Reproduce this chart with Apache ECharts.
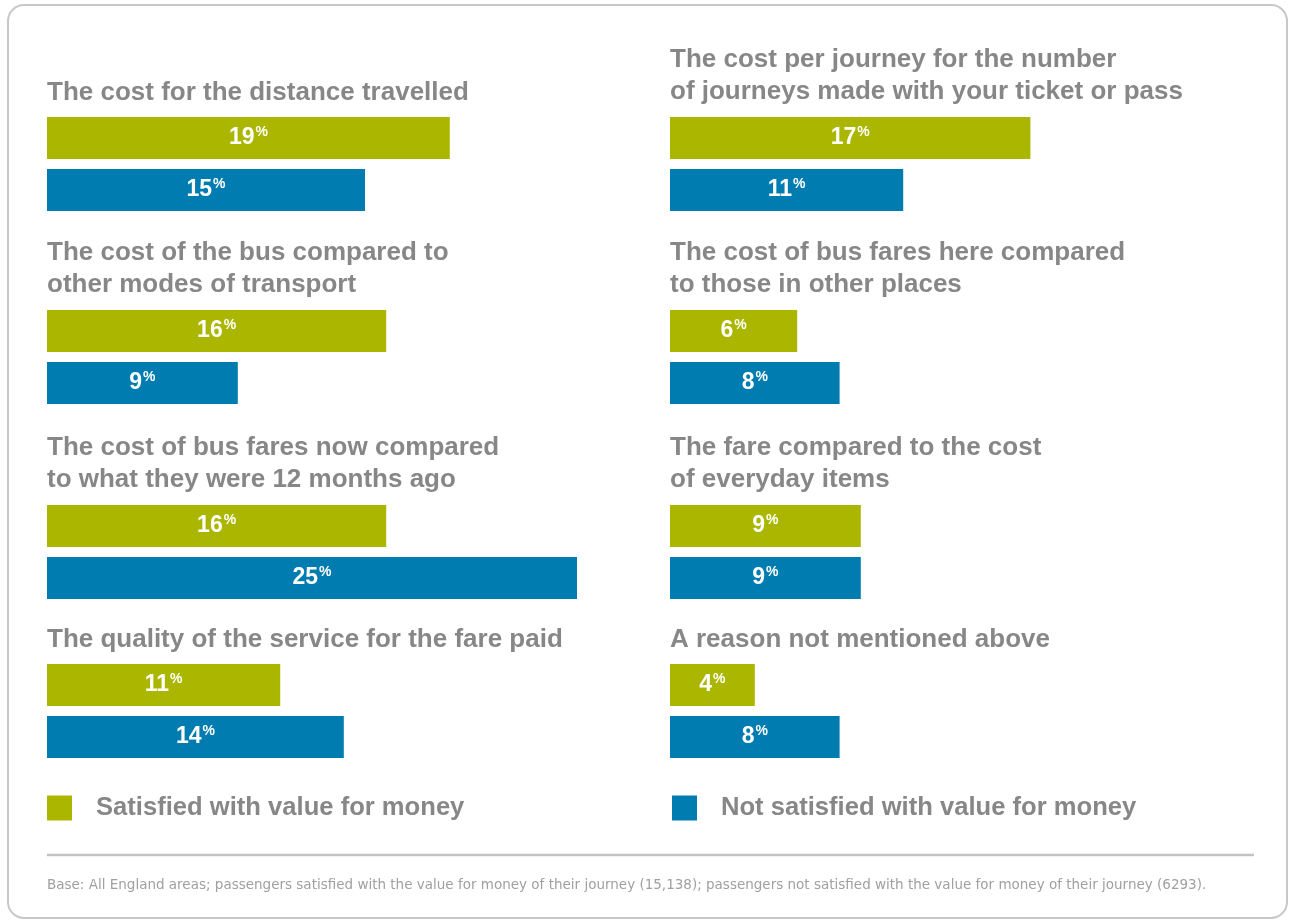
<!DOCTYPE html>
<html>
<head>
<meta charset="utf-8">
<title>Reasons for value-for-money ratings</title>
<script src="https://cdn.jsdelivr.net/npm/echarts@6/dist/echarts.min.js"></script>
<style>
  html, body { margin: 0; padding: 0; background: #ffffff; }
  #chart { width: 1289px; height: 921px; }
</style>
</head>
<body>
<div id="chart"></div>
<script>
// Question items, four per column (left column first, then right)
const groupTitles = [
  'The cost for the distance travelled',
  'The cost of the bus compared to\nother modes of transport',
  'The cost of bus fares now compared\nto what they were 12 months ago',
  'The quality of the service for the fare paid',
  'The cost per journey for the number\nof journeys made with your ticket or pass',
  'The cost of bus fares here compared\nto those in other places',
  'The fare compared to the cost\nof everyday items',
  'A reason not mentioned above'
];
const seriesNames = ['Satisfied with value for money', 'Not satisfied with value for money'];
const satisfied = [19, 16, 16, 11, 17, 6, 9, 4];
const notSatisfied = [15, 9, 25, 14, 11, 8, 9, 8];
const footnote = 'Base: All England areas; passengers satisfied with the value for money of their journey (15,138); passengers not satisfied with the value for money of their journey (6293).';

const GREEN = '#abb600';
const BLUE = '#007cb0';
const TITLE_GRAY = '#878787';
const FONT = '"Liberation Sans", Arial, Helvetica, sans-serif';

// layout of each panel: column x and top of the first bar
const colLeft = [47, 670];
const barTops = [117, 310, 505, 664];
const titleTops = [[77, 237, 432, 624], [44, 237, 432, 624]];
const BAR_H = 42;
const BAR_STEP = 52;
const AXIS_MAX = 25;
const PX_PER_UNIT = 21.2;

const grids = [], xAxes = [], yAxes = [], series = [], titles = [];

const labelCfg = {
  show: true,
  position: 'inside',
  formatter: '{n|{c}}{p|%}',
  rich: {
    n: { fontFamily: FONT, fontSize: 23, fontWeight: 'bold', color: '#ffffff', lineHeight: 26 },
    p: { fontFamily: FONT, fontSize: 14, fontWeight: 'bold', color: '#ffffff', lineHeight: 26, verticalAlign: 'top', padding: [0, 0, 9, 1] }
  }
};

for (let i = 0; i < 8; i++) {
  const col = Math.floor(i / 4);
  const row = i % 4;
  const top = barTops[row] - (BAR_STEP - BAR_H) / 2;
  grids.push({
    left: colLeft[col], top: top,
    width: AXIS_MAX * PX_PER_UNIT, height: BAR_STEP * 2,
    containLabel: false
  });
  xAxes.push({
    type: 'value', gridIndex: i, min: 0, max: AXIS_MAX, show: false
  });
  yAxes.push({
    type: 'category', gridIndex: i, inverse: true,
    data: seriesNames, show: false
  });
  series.push({
    name: seriesNames[0], type: 'bar', xAxisIndex: i, yAxisIndex: i,
    barWidth: BAR_H, barGap: '-100%',
    itemStyle: { color: GREEN },
    label: labelCfg,
    data: [satisfied[i], '-'],
    silent: true, animation: false
  });
  series.push({
    name: seriesNames[1], type: 'bar', xAxisIndex: i, yAxisIndex: i,
    barWidth: BAR_H, barGap: '-100%',
    itemStyle: { color: BLUE },
    label: labelCfg,
    data: ['-', notSatisfied[i]],
    silent: true, animation: false
  });
  titles.push({
    text: groupTitles[i],
    left: colLeft[col], top: titleTops[col][row],
    padding: 0,
    textStyle: { fontFamily: FONT, fontSize: 26, fontWeight: 'bold', color: TITLE_GRAY, lineHeight: 32 }
  });
}

const legendText = { fontFamily: FONT, fontSize: 25.6, fontWeight: 'bold', color: TITLE_GRAY, padding: [0, 0, 0, 19] };

const option = {
  backgroundColor: '#ffffff',
  animation: false,
  title: titles,
  grid: grids,
  xAxis: xAxes,
  yAxis: yAxes,
  series: series,
  legend: [
    { data: [seriesNames[0]], left: 47, top: 795, padding: 0, itemWidth: 25, itemHeight: 25,
      icon: 'rect', selectedMode: false, textStyle: legendText },
    { data: [seriesNames[1]], left: 672, top: 795, padding: 0, itemWidth: 25, itemHeight: 25,
      icon: 'rect', selectedMode: false, textStyle: legendText }
  ],
  graphic: [
    {
      type: 'rect', silent: true, z: -10,
      shape: { x: 8, y: 5, width: 1279, height: 913, r: 16 },
      style: { fill: 'none', stroke: '#c8c8c8', lineWidth: 2 }
    },
    {
      type: 'line', silent: true,
      shape: { x1: 47, y1: 855, x2: 1254, y2: 855 },
      style: { stroke: '#c2c2c2', lineWidth: 2.5 }
    },
    {
      type: 'text', silent: true,
      style: {
        text: footnote, x: 47, y: 885,
        textVerticalAlign: 'middle',
        font: '13.5px "DejaVu Sans", sans-serif',
        fill: '#a0a0a0'
      }
    }
  ]
};

const chart = echarts.init(document.getElementById('chart'), null, { renderer: 'canvas' });
chart.setOption(option);
</script>
</body>
</html>
